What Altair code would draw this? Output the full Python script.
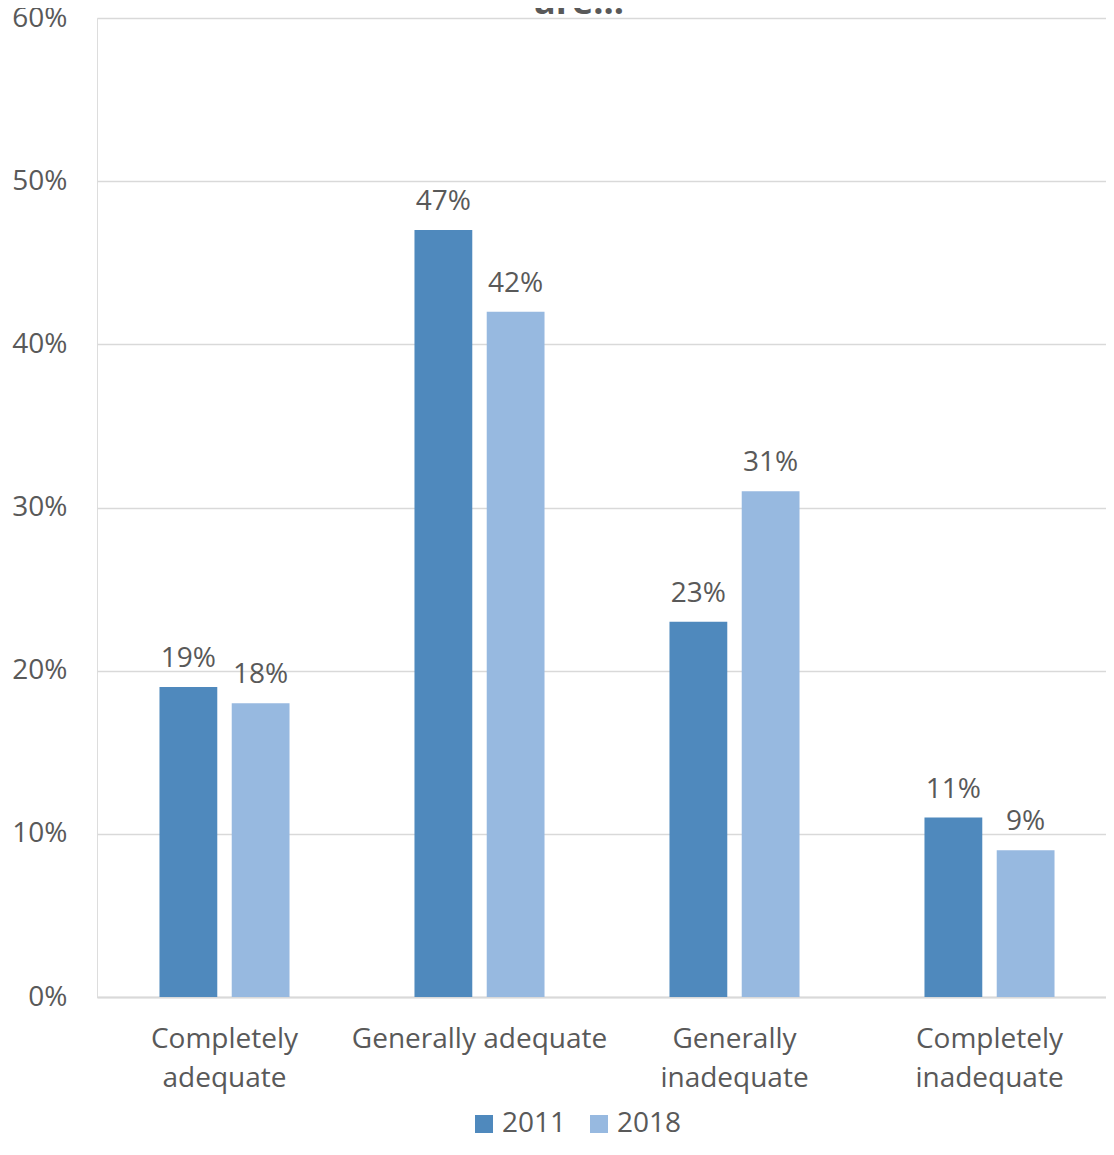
import altair as alt
import pandas as pd

categories = ["Completely adequate", "Generally adequate", "Generally inadequate", "Completely inadequate"]
years = ["2011", "2018"]
values_2011 = [0.19, 0.47, 0.23, 0.11]
values_2018 = [0.18, 0.42, 0.31, 0.09]
title_text = "are..."

rows = []
for c, a, b in zip(categories, values_2011, values_2018):
    rows.append({"category": c, "year": "2011", "value": a})
    rows.append({"category": c, "year": "2018", "value": b})
df = pd.DataFrame(rows)

FONT = "Open Sans"
GREY = "#595959"
colors = ["#4F89BD", "#97B9E0"]

x = alt.X("category:N", sort=categories, title=None,
          scale=alt.Scale(paddingInner=0.49, paddingOuter=0.245, range=[0, 1020]),
          axis=alt.Axis(labelAngle=0, labelFontSize=28, labelFont=FONT, labelColor=GREY,
                        labelLineHeight=39, labelPadding=28, ticks=False, labelLimit=0,
                        domainColor="#D9D9D9", domainWidth=2,
                        labelExpr="datum.label == 'Generally adequate' ? datum.label : split(datum.label, ' ')"))
xo = alt.XOffset("year:N", sort=years, scale=alt.Scale(paddingInner=0.2))
y = alt.Y("value:Q", title=None,
          scale=alt.Scale(domain=[0, 0.6]),
          axis=alt.Axis(format=".0%", values=[0, 0.1, 0.2, 0.3, 0.4, 0.5, 0.6],
                        labelFontSize=28, labelFont=FONT, labelColor=GREY,
                        labelPadding=30, ticks=False, domain=False,
                        gridColor="#D9D9D9", gridWidth=1.5))

base = alt.Chart(df).encode(x=x, xOffset=xo, y=y)

bars = base.mark_bar().encode(
    color=alt.Color("year:N", sort=years, scale=alt.Scale(domain=years, range=colors),
                    legend=alt.Legend(title=None, orient="none", direction="horizontal",
                                      legendX=373, legendY=1092, padding=0,
                                      symbolType="square", symbolSize=324, symbolStrokeWidth=0,
                                      labelFontSize=28, labelFont=FONT, labelColor=GREY,
                                      columnPadding=18, labelOffset=4))
)

labels = base.mark_text(baseline="alphabetic", dy=-20, fontSize=28, font=FONT, color=GREY).encode(
    text=alt.Text("value:Q", format=".0%")
)

title = alt.Chart(pd.DataFrame({"t": [title_text]})).mark_text(
    baseline="alphabetic", align="center", fontSize=36, fontWeight="bold", font=FONT, color=GREY
).encode(text="t:N", x=alt.value(482), y=alt.value(-4))

chart = alt.layer(bars, labels, title).properties(
    width=1009, height=979,
    autosize=alt.AutoSizeParams(type="none"),
    padding={"left": 89, "top": 10, "right": 0, "bottom": 142},
).configure_view(stroke=None).configure(background="white")

chart.save("out.html", embed_options={"renderer": "svg", "actions": False})
